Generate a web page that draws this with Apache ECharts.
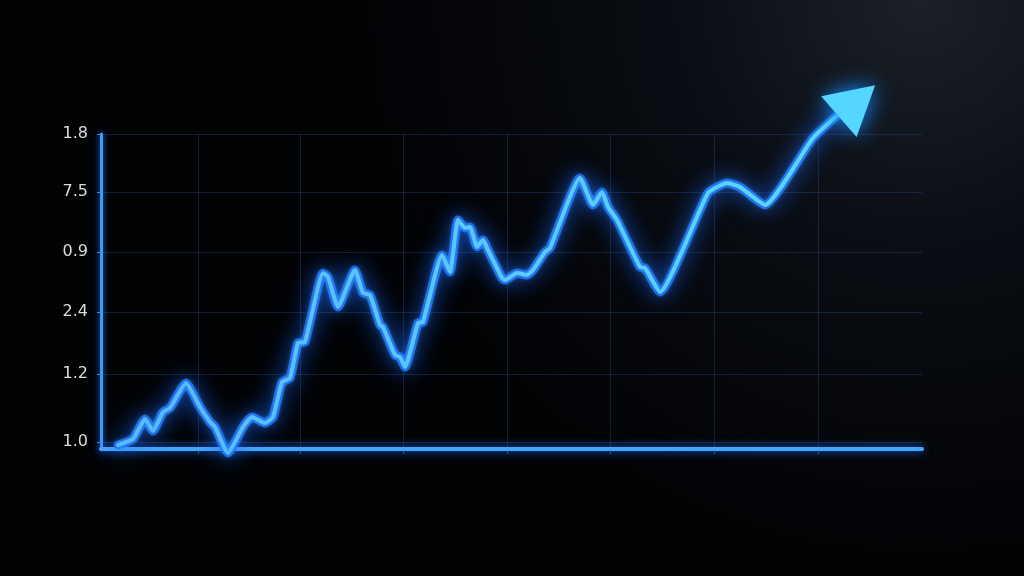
<!DOCTYPE html>
<html>
<head>
<meta charset="utf-8">
<script src="https://cdn.jsdelivr.net/npm/echarts@6/dist/echarts.min.js"></script>
<style>
html,body{margin:0;padding:0;background:#020306;}
#c{width:1024px;height:576px;}
</style>
</head>
<body>
<div id="c"></div>
<script>
// Y axis tick labels (as printed) and where they sit on the value scale
const yTickLabels = ['1.0', '1.2', '2.4', '0.9', '7.5', '1.8'];
const yTickValues = [0.7, 7.5, 13.7, 19.7, 25.7, 31.5];
// X axis tick positions (no labels shown)
const xTickValues = [9.7, 19.9, 30.2, 40.6, 50.9, 61.3, 71.7];

// Line series
const xs = [1.7, 3.2, 4.4, 5.2, 6.2, 6.9, 8.5, 9.9, 10.9, 11.4, 12.7, 14.2, 15.1, 16.4, 17.2, 18.1, 18.9,
  19.7, 20.4, 22.2, 22.7, 23.7, 25.4, 26.2, 26.9, 27.9, 28.2, 29.4, 29.9, 30.4, 31.7, 32.2, 34.1, 34.9,
  35.7, 36.4, 36.9, 37.6, 38.2, 38.7, 40.1, 40.4, 41.6, 42.6, 43.2, 44.4, 44.9, 47.9, 49.2, 50.1, 50.7,
  51.6, 53.9, 54.4, 55.9, 60.7, 62.6, 63.9, 66.4, 71.2, 73.9, 75.6];
const ys = [0.4, 1.0, 3.0, 1.8, 3.7, 4.1, 6.6, 4.2, 2.7, 2.2, -0.4, 2.2, 3.2, 2.6, 3.2, 6.7, 7.1,
  10.6, 10.7, 17.6, 17.2, 14.2, 17.9, 15.6, 15.4, 12.4, 12.2, 9.4, 9.2, 8.2, 12.6, 12.7, 19.4, 17.7,
  22.9, 22.1, 22.2, 20.2, 20.9, 19.9, 17.1, 16.9, 17.6, 17.4, 17.9, 19.7, 20.1, 27.1, 24.4, 25.7, 24.2,
  22.9, 18.2, 18.1, 15.7, 25.6, 26.6, 26.2, 24.4, 31.1, 33.6, 34.8];

const pts = xs.map((x, i) => [x, ys[i]]);
const last = pts.length - 1;

const coreData = pts.map((p, i) => i === last ? {
  value: p,
  symbol: 'triangle',
  symbolSize: [54, 48],
  symbolRotate: -49,
  itemStyle: { color: '#55d6ff', shadowBlur: 22, shadowColor: '#1a8cff' }
} : p);

const chart = echarts.init(document.getElementById('c'), null, { renderer: 'canvas' });
chart.setOption({
  backgroundColor: {
    type: 'radial', x: 0.9, y: 0.0, r: 0.95,
    colorStops: [
      { offset: 0, color: '#1b2029' },
      { offset: 0.45, color: '#0a0d13' },
      { offset: 1, color: '#020305' }
    ]
  },
  animation: false,
  grid: { left: 101, right: 102, top: 134, bottom: 127, containLabel: false },
  xAxis: {
    type: 'value', min: 0, max: 82.1,
    axisLine: { show: true, lineStyle: { color: '#45a6ff', width: 4, shadowBlur: 10, shadowColor: '#1a70ff', cap: 'round' } },
    axisTick: { show: true, customValues: xTickValues, length: 5, lineStyle: { color: 'rgba(90,130,190,0.55)', width: 1 } },
    axisLabel: { show: false, customValues: xTickValues },
    splitLine: { show: true, lineStyle: { color: 'rgba(40,65,110,0.45)', width: 1 } }
  },
  yAxis: {
    type: 'value', min: 0, max: 31.5,
    axisLine: { show: true, lineStyle: { color: '#3f9cf5', width: 3, shadowBlur: 6, shadowColor: '#1a70ff' } },
    axisTick: { show: true, customValues: yTickValues, length: 4, lineStyle: { color: '#3a8de0', width: 1 } },
    axisLabel: {
      customValues: yTickValues,
      formatter: v => {
        const i = yTickValues.findIndex(t => Math.abs(t - v) < 1e-6);
        return i >= 0 ? yTickLabels[i] : '';
      },
      color: '#dcdcdc', fontSize: 16, fontFamily: 'DejaVu Sans', margin: 13
    },
    splitLine: { show: true, lineStyle: { color: 'rgba(40,65,110,0.45)', width: 1 } }
  },
  series: [
    {
      type: 'line', data: pts, clip: false, smooth: 0.15,
      symbol: 'none', silent: true, z: 3,
      lineStyle: { color: 'rgba(25,110,255,0.85)', width: 9, shadowBlur: 22, shadowColor: '#1565ff', cap: 'round', join: 'round' }
    },
    {
      type: 'line', data: coreData, clip: false, smooth: 0.15,
      symbol: 'none', showSymbol: true, silent: true, z: 4,
      lineStyle: {
        color: { type: 'linear', x: 0, y: 0, x2: 1, y2: 0, colorStops: [
          { offset: 0, color: '#5ab8ff' }, { offset: 1, color: '#5ad8ff' } ] },
        width: 4, shadowBlur: 6, shadowColor: '#3aa0ff', cap: 'round', join: 'round'
      }
    }
  ]
});
</script>
</body>
</html>
